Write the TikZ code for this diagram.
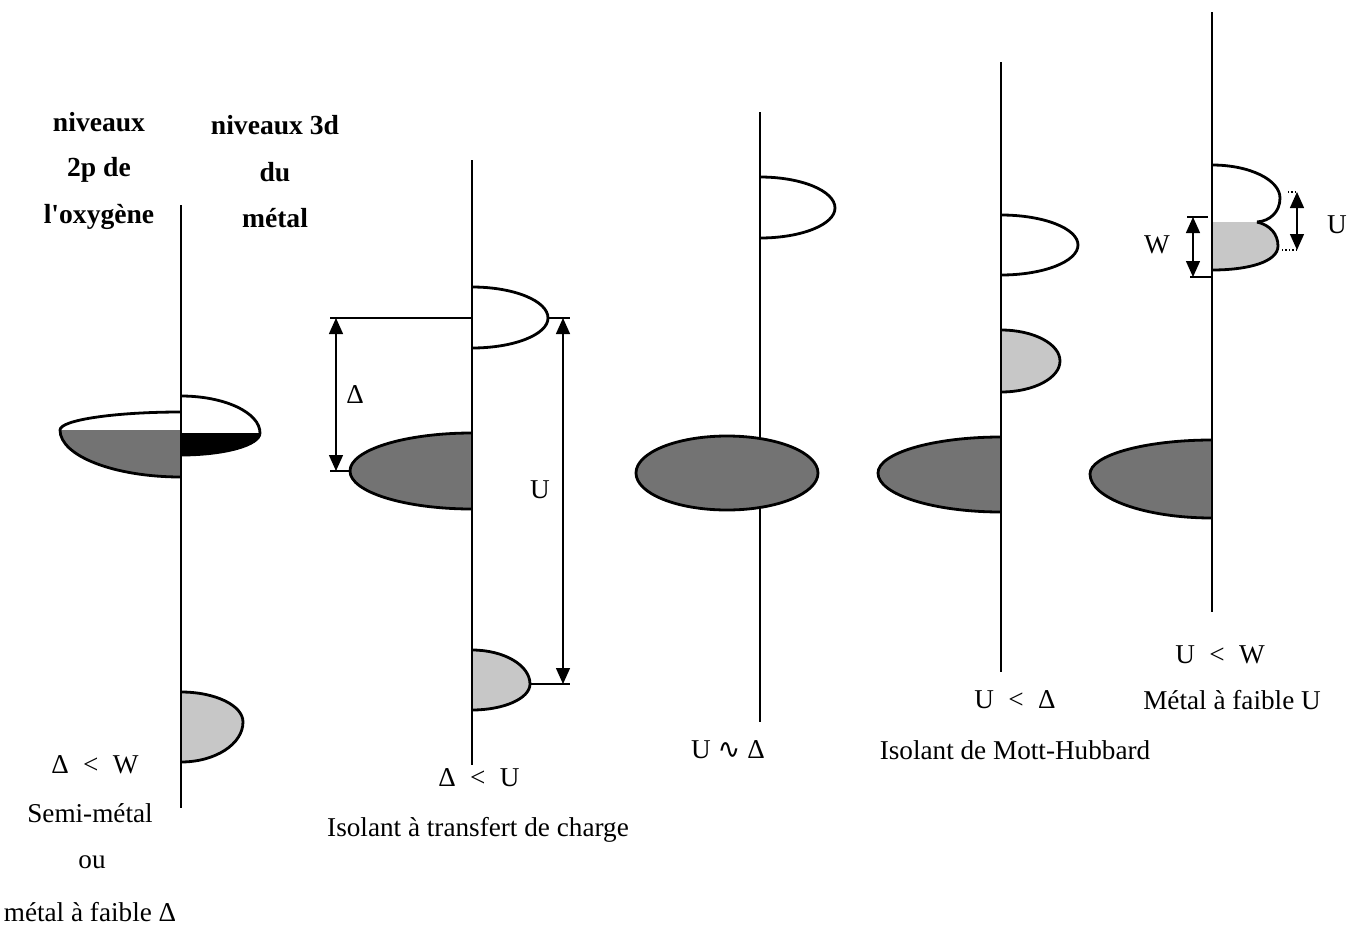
\documentclass[tikz,border=0pt]{standalone}
\usepackage{fontspec}
\setmainfont{Liberation Serif}
\newfontfamily\symbfont{DejaVu Sans}
\usetikzlibrary{arrows.meta,calc}

% demi-ellipse accrochee a l'axe : x axe, y haut, y bas, x pointe, y pointe
\newcommand{\lobe}[5]{(#1,#2) .. controls ($(#1,#2)!0.552!(#4,#2)$) and ($(#4,#5)!0.552!(#4,#2)$) .. (#4,#5) .. controls ($(#4,#5)!0.552!(#4,#3)$) and ($(#1,#3)!0.552!(#4,#3)$) .. (#1,#3)}
% partie basse seulement (remplissage partiel)
\newcommand{\baslobe}[5]{(#4,#5) .. controls ($(#4,#5)!0.552!(#4,#3)$) and ($(#1,#3)!0.552!(#4,#3)$) .. (#1,#3) -- (#1,#5) -- cycle}

\begin{document}
\begin{tikzpicture}[
        x=0.5pt, y=-0.5pt,
        axe/.style={line width=1pt},
        bord/.style={line width=1.4pt},
        sombre/.style={fill=black!55},
        clair/.style={fill=black!22},
        cote/.style={line width=0.7pt},
        fleche/.style={cote, {Triangle[width=7pt,length=8pt]}-{Triangle[width=7pt,length=8pt]}},
        titre/.style={font=\fontsize{13.8}{16}\selectfont\bfseries},
        txt/.style={font=\fontsize{13.6}{16}\selectfont}
    ]
        \useasboundingbox (0,0) rectangle (1357,927);

        % ---- semi-metal
        \fill[sombre] \baslobe{181}{412}{477}{60}{430};
        \draw[bord] \lobe{181}{412}{477}{60}{430};
        \fill[black] \baslobe{181}{396}{455}{260}{433};
        \draw[bord] \lobe{181}{396}{455}{260}{433};
        \filldraw[bord, clair] \lobe{181}{692}{762}{243}{722};
        \draw[axe] (181,205) -- (181,808);

        \node[titre] (o1) at (99,122) {niveaux};
        \node[titre] (o2) at (99,170) {2p de};
        \node[titre] (o3) at (99,217) {l\textquotesingle oxygène};
        \node[titre] (m1) at (275,125) {niveaux 3d};
        \node[titre] (m2) at (275,172) {du};
        \node[titre] (m3) at (275,218) {métal};
        \node[txt] (c1) at (95,765) {Δ \;<\; W};
        \node[txt] (n1a) at (90,813) {Semi-métal};
        \node[txt] (n1b) at (92,862) {ou};
        \node[txt] (n1c) at (90,912) {métal à faible Δ};

        % ---- transfert de charge
        \filldraw[bord, fill=white] \lobe{472}{287}{348}{548}{318};
        \filldraw[bord, sombre] \lobe{472}{433}{509}{350}{471};
        \filldraw[bord, clair] \lobe{472}{650}{710}{530}{684};
        \draw[axe] (472,160) -- (472,765);
        \coordinate (dh) at (330,318);
        \coordinate (da) at (472,318);
        \coordinate (db) at (330,471);
        \coordinate (dp) at (350,471);
        \draw[cote] (dh) -- (da);
        \draw[cote] (db) -- (dp);
        \draw[fleche] ($(dh)+(6,0)$) -- ($(db)+(6,0)$);
        \node[txt] (delta) at (355,395) {Δ};
        \coordinate (uh) at (548,318);
        \coordinate (uh2) at (570,318);
        \coordinate (ub) at (530,684);
        \coordinate (ub2) at (570,684);
        \draw[cote] (uh) -- (uh2);
        \draw[cote] (ub) -- (ub2);
        \draw[fleche] ($(uh2)+(-7,0)$) -- ($(ub2)+(-7,0)$);
        \node[txt] (u2) at (540,490) {U};
        \node[txt] (c2) at (479,778) {Δ \;<\; U};
        \node[txt] (n2) at (478,830) {Isolant à transfert de charge};

        % ---- U ~ Delta
        \filldraw[bord, fill=white] \lobe{760}{177}{238}{835}{208};
        \draw[axe] (760,112) -- (760,722);
        \filldraw[bord, sombre] (727,473) ellipse (91 and 37);
        \node[txt] (c3) at (728,750) {U {\symbfont ∿} Δ};

        % ---- Mott-Hubbard
        \filldraw[bord, fill=white] \lobe{1001}{215}{275}{1078}{245};
        \filldraw[bord, clair] \lobe{1001}{330}{392}{1060}{361};
        \filldraw[bord, sombre] \lobe{1001}{437}{512}{878}{473};
        \draw[axe] (1001,62) -- (1001,672);
        \node[txt] (c4) at (1015,700) {U \;<\; Δ};
        \node[txt] (n4) at (1015,750) {Isolant de Mott-Hubbard};

        % ---- metal a faible U
        \fill[clair] (1212,222) -- (1257,222) .. controls (1270,225) and (1278,234) .. (1278,246)
            .. controls (1278,262) and (1248,270) .. (1212,270) -- cycle;
        \draw[bord] (1257,222) .. controls (1270,225) and (1278,234) .. (1278,246)
            .. controls (1278,262) and (1248,270) .. (1212,270);
        \draw[bord] (1212,165) .. controls (1250,165) and (1280,180) .. (1280,198)
            .. controls (1280,212) and (1270,221) .. (1257,222);
        \filldraw[bord, sombre] \lobe{1212}{440}{518}{1090}{474};
        \draw[axe] (1212,12) -- (1212,612);
        \coordinate (wh) at (1187,217);
        \coordinate (wh2) at (1208,217);
        \coordinate (wb) at (1190,277);
        \coordinate (wb2) at (1212,277);
        \draw[cote] (wh) -- (wh2);
        \draw[cote] (wb) -- (wb2);
        \draw[fleche] ($(wh)+(6,0)$) -- ($(wb)+(3,0)$);
        \node[txt] (w5) at (1157,245) {W};
        \coordinate (ph) at (1288,192);
        \coordinate (pb) at (1282,250);
        \draw[cote, densely dotted] (ph) -- ++(8,0);
        \draw[cote, densely dotted] (pb) -- ++(14,0);
        \draw[fleche] (1297,192) -- (1297,250);
        \node[txt] (u5) at (1337,225) {U};
        \node[txt] (c5) at (1220,655) {U \;<\; W};
        \node[txt] (n5) at (1232,700) {Métal à faible U};
    \end{tikzpicture}
\end{document}
